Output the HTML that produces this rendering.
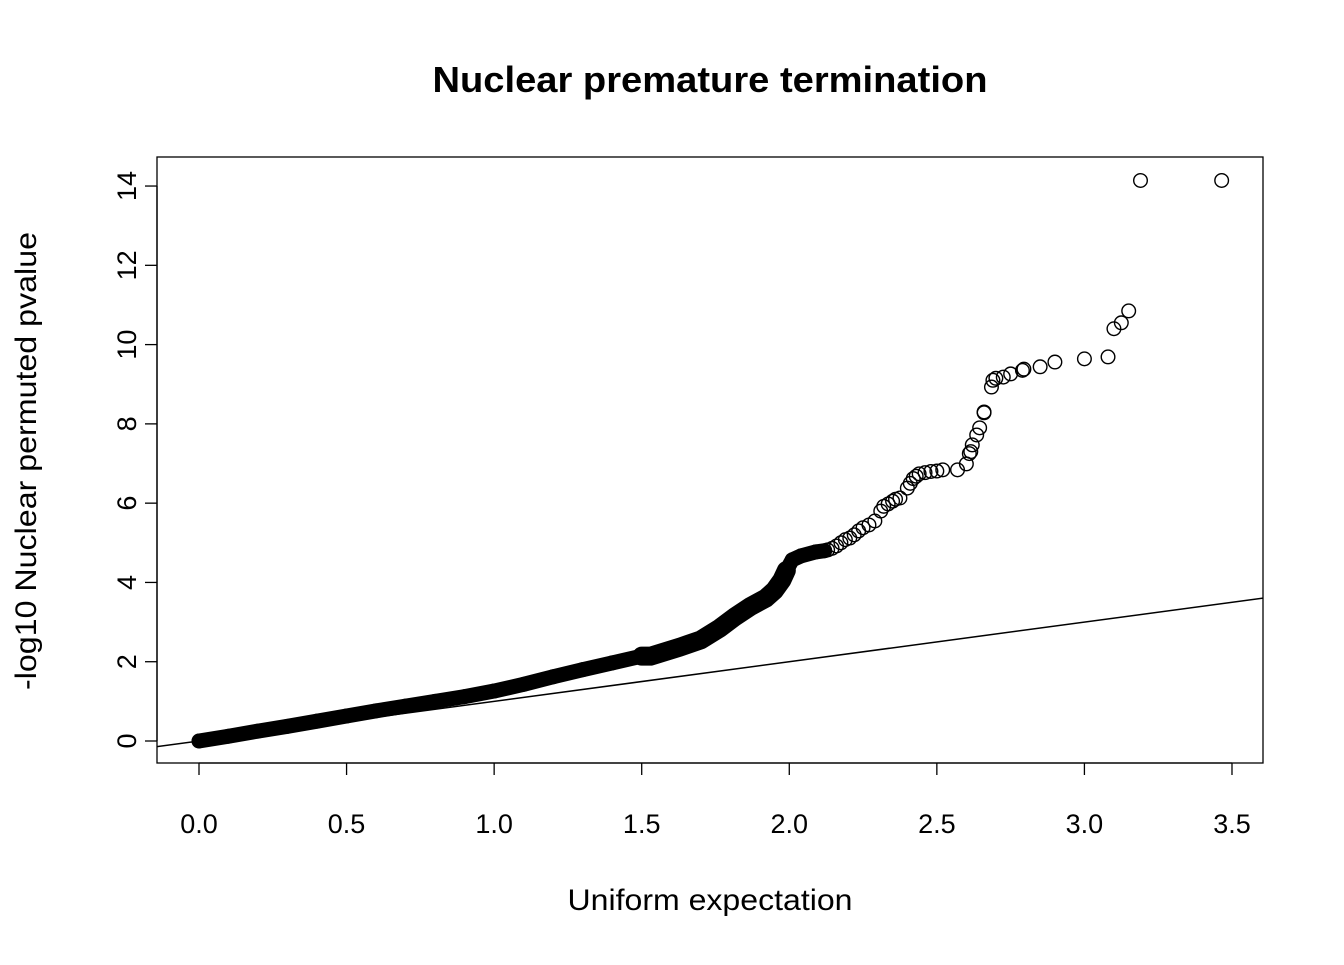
<!DOCTYPE html>
<html><head><meta charset="utf-8"><style>
body{margin:0;background:#fff}
svg text{font-family:"Liberation Sans",sans-serif;fill:#000}
</style></head><body>
<svg width="1344" height="960" xmlns="http://www.w3.org/2000/svg">
<rect width="1344" height="960" fill="#fff"/>
<text x="710" y="92" font-size="36" font-weight="bold" text-anchor="middle" textLength="555" lengthAdjust="spacingAndGlyphs">Nuclear premature termination</text>
<rect x="157" y="157" width="1106" height="606" fill="none" stroke="#000" stroke-width="1.3"/>
<text x="710" y="910" font-size="30" text-anchor="middle" textLength="285" lengthAdjust="spacingAndGlyphs">Uniform expectation</text>
<text transform="translate(36,461) rotate(-90)" font-size="30" text-anchor="middle" textLength="458" lengthAdjust="spacingAndGlyphs">-log10 Nuclear permuted pvalue</text>
<g id="axes"></g>
<defs><clipPath id="clip"><rect x="157" y="157" width="1106" height="606"/></clipPath></defs>
<g id="marks" clip-path="url(#clip)"></g>
</svg>
<script>
const xTicks=[0,0.5,1,1.5,2,2.5,3,3.5];
const xTickLabels=["0.0","0.5","1.0","1.5","2.0","2.5","3.0","3.5"];
const yTicks=[0,2,4,6,8,10,12,14];
const yTickLabels=["0","2","4","6","8","10","12","14"];
const denseX=[0,0.1,0.2,0.3,0.4,0.5,0.6,0.7,0.8,0.9,1.0,1.1,1.2,1.3,1.4,1.5,1.53,1.63,1.7,1.765,1.815,1.87,1.92,1.95,1.975,1.99,2.01,2.04,2.09,2.12];
const denseY=[0,0.12,0.25,0.37,0.5,0.63,0.76,0.88,1.0,1.12,1.26,1.43,1.62,1.8,1.97,2.14,2.14,2.37,2.55,2.85,3.13,3.4,3.6,3.8,4.06,4.3,4.57,4.67,4.77,4.8];
const sparseX=[2.13,2.145,2.16,2.175,2.19,2.205,2.22,2.235,2.25,2.27,2.29,2.31,2.32,2.335,2.35,2.36,2.375,2.40,2.41,2.42,2.43,2.44,2.46,2.48,2.50,2.52,2.57,2.60,2.61,2.615,2.62,2.635,2.645,2.66,2.66,2.685,2.69,2.70,2.725,2.75,2.79,2.795,2.85,2.90,3.00,3.08,3.10,3.125,3.15,3.19,3.465];
const sparseY=[4.82,4.86,4.92,5.0,5.08,5.12,5.2,5.3,5.38,5.45,5.55,5.8,5.92,5.98,6.05,6.1,6.13,6.38,6.5,6.62,6.68,6.74,6.77,6.8,6.81,6.84,6.84,6.99,7.25,7.3,7.47,7.72,7.9,8.28,8.3,8.93,9.1,9.15,9.18,9.26,9.35,9.38,9.44,9.56,9.64,9.69,10.4,10.55,10.85,14.14,14.14];
const NS="http://www.w3.org/2000/svg";
const sx=v=>199+v*295.14, sy=v=>741-v*39.64;
const axes=document.getElementById('axes'), marks=document.getElementById('marks');
function mk(tag,attrs,parent){const e=document.createElementNS(NS,tag);for(const k in attrs)e.setAttribute(k,attrs[k]);parent.appendChild(e);return e;}
mk('line',{x1:sx(0),x2:sx(3.5),y1:763,y2:763,stroke:'#000','stroke-width':1.3},axes);
xTicks.forEach((t,i)=>{
 const l=mk('line',{x1:sx(t),x2:sx(t),y1:763,y2:775,stroke:'#000','stroke-width':1.3},axes);
 
 
 const tx=mk('text',{x:sx(t),y:833,'font-size':27,'text-anchor':'middle'},axes);tx.textContent=xTickLabels[i];
 
 
});
mk('line',{x1:157,x2:157,y1:sy(0),y2:sy(14),stroke:'#000','stroke-width':1.3},axes);
yTicks.forEach((t,i)=>{
 const l=mk('line',{x1:145,x2:157,y1:sy(t),y2:sy(t),stroke:'#000','stroke-width':1.3},axes);
 
 
 const tx=mk('text',{transform:`translate(136,${sy(t)}) rotate(-90)`,'font-size':27,'text-anchor':'middle'},axes);tx.textContent=yTickLabels[i];
 
 
});
const ref=mk('line',{x1:sx(-0.2),y1:sy(-0.2),x2:sx(3.7),y2:sy(3.7),stroke:'#000','stroke-width':1.5},marks);


const band=mk('polyline',{points:denseX.map((x,i)=>sx(x)+','+sy(denseY[i])).join(' '),fill:'none',stroke:'#000','stroke-width':15,'stroke-linecap':'round','stroke-linejoin':'round'},marks);


const band2=mk('polyline',{points:denseX.map((x,i)=>[x,denseY[i]]).filter(p=>p[0]>=1.5&&p[0]<=2.0).map(p=>sx(p[0])+','+sy(p[1])).join(' '),fill:'none',stroke:'#000','stroke-width':19,'stroke-linecap':'round','stroke-linejoin':'round'},marks);


denseX.forEach((x,i)=>{
 const c=mk('circle',{cx:sx(x),cy:sy(denseY[i]),r:6.8,fill:'none',stroke:'#000','stroke-width':1.4},marks);
 
 
});
sparseX.forEach((x,i)=>{
 const c=mk('circle',{cx:sx(x),cy:sy(sparseY[i]),r:6.8,fill:'none',stroke:'#000','stroke-width':1.4},marks);
 
 
});
</script>
</body></html>
